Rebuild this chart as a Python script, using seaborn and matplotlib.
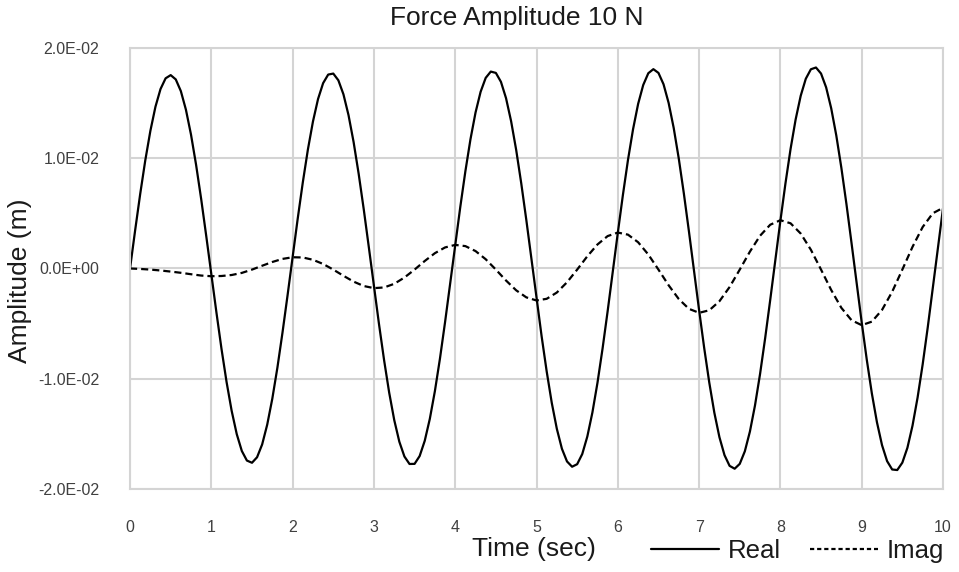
import numpy as np
import pandas as pd
import matplotlib
matplotlib.use("Agg")
import matplotlib.pyplot as plt
from matplotlib.lines import Line2D
from matplotlib.ticker import FuncFormatter
import seaborn as sns

# ===============================
# DATA (amplitudes, in units of 1e-4 m)
# ===============================
TIME_REAL = np.linspace(0, 10, 161)  # 1/16 s apart
TIME_IMAG = np.linspace(0, 10, 81)   # 1/8 s apart

REAL_1E4 = [
    0.0, 34.5, 67.6, 98.1, 124.8, 146.7, 162.8, 172.5,
    175.4, 171.5, 160.9, 144.0, 121.4, 94.0, 63.0, 29.4,
    -5.3, -39.8, -72.9, -103.0, -129.1, -150.2, -165.5, -174.2,
    -176.2, -171.2, -159.6, -141.6, -118.1, -90.0, -58.3, -24.4,
    10.6, 45.2, 78.0, 107.8, 133.3, 153.7, 168.1, 175.9,
    176.8, 170.7, 158.0, 139.1, 114.7, 85.8, 53.6, 19.2,
    -16.0, -50.5, -83.1, -112.5, -137.5, -157.1, -170.5, -177.3,
    -177.2, -170.1, -156.3, -136.4, -111.2, -81.6, -48.7, -13.9,
    21.4, 55.9, 88.2, 117.2, 141.5, 160.3, 172.9, 178.6,
    177.4, 169.3, 154.5, 133.6, 107.5, 77.1, 43.8, 8.7,
    -26.8, -61.3, -93.3, -121.8, -145.4, -163.5, -175.0, -179.8,
    -177.5, -168.3, -152.4, -130.6, -103.6, -72.6, -38.7, -3.3,
    32.3, 66.6, 98.4, 126.3, 149.3, 166.4, 177.1, 180.8,
    177.4, 167.1, 150.2, 127.5, 99.7, 68.0, 33.6, -2.1,
    -37.8, -72.0, -103.4, -130.8, -153.0, -169.3, -179.0, -181.6,
    -177.2, -165.8, -147.9, -124.2, -95.6, -63.2, -28.4, 7.6,
    43.3, 77.3, 108.4, 135.2, 156.7, 172.1, 180.7, 182.3,
    176.8, 164.3, 145.3, 120.7, 91.3, 58.4, 23.1, -13.1,
    -48.8, -82.7, -113.3, -139.4, -160.2, -174.7, -182.3, -182.8,
    -176.1, -162.6, -142.6, -117.1, -87.0, -53.4, -17.7, 18.7,
    54.4,
]

IMAG_1E4 = [
    0.0, -0.4, -1.0, -1.8, -2.8, -3.9, -5.2, -6.4, -7.0,
    -6.8, -5.9, -4.0, -1.0, 2.5, 5.9, 8.7, 10.2,
    10.0, 7.9, 4.1, -1.0, -6.6, -11.9, -15.9, -17.8,
    -17.2, -13.9, -8.2, -1.0, 6.8, 13.9, 19.1, 21.4,
    20.3, 15.8, 8.4, -1.0, -10.9, -19.8, -26.2, -29.0,
    -27.5, -21.8, -12.5, -1.0, 11.1, 21.8, 29.4, 32.6,
    30.7, 23.8, 12.7, -1.0, -15.2, -27.7, -36.6, -40.2,
    -37.9, -29.7, -16.8, -1.0, 15.3, 29.7, 39.7, 43.8,
    41.0, 31.7, 17.0, -1.0, -19.5, -35.7, -46.9, -51.4,
    -48.2, -37.6, -21.1, -1.0, 19.6, 37.6, 50.1, 55.0,
]

SERIES = ["Real", "Imag"]
X_TICKS = list(range(0, 11))
Y_TICKS = [-0.02, -0.01, 0.0, 0.01, 0.02]

# ===============================
# LONG FORMAT TABLE
# ===============================
df = pd.concat([
    pd.DataFrame({"time": TIME_REAL, "amp": np.array(REAL_1E4) * 1e-4, "series": "Real"}),
    pd.DataFrame({"time": TIME_IMAG, "amp": np.array(IMAG_1E4) * 1e-4, "series": "Imag"}),
], ignore_index=True)

# ===============================
# STYLE
# ===============================
sns.set_theme(style="whitegrid")
plt.rcParams["font.family"] = ["Liberation Sans", "DejaVu Sans"]
GRID = "#d4d4d4"
DASH = (3.2, 1.8)
LW = 1.6

fig = plt.figure(figsize=(9.59, 5.72), dpi=100)
ax = fig.add_axes([0.1356, 0.1451, 0.8477, 0.7710])

sns.lineplot(
    data=df, x="time", y="amp", style="series", style_order=SERIES,
    dashes={"Real": "", "Imag": DASH}, color="black",
    linewidth=LW, ax=ax, sort=False, legend=False,
)

ax.set_xlim(0, 10)
ax.set_ylim(-0.02, 0.02)
ax.set_xticks(X_TICKS)
ax.set_yticks(Y_TICKS)
ax.yaxis.set_major_formatter(FuncFormatter(lambda v, p: f"{v:.1E}"))
ax.tick_params(axis="both", length=0, labelsize=11.5, colors="#404040")
ax.tick_params(axis="y", pad=22)
ax.tick_params(axis="x", pad=22)

ax.grid(True, color=GRID, linewidth=1.5)
for s in ax.spines.values():
    s.set_color(GRID)
    s.set_linewidth(1.5)

ax.set_xlabel("")
ax.set_ylabel("")
TXT = "#1a1a1a"
fig.text(534 / 959, 1 - 549 / 572, "Time (sec)", ha="center", va="center",
         fontsize=19, color=TXT)
fig.text(20 / 959, 1 - 281 / 572, "Amplitude (m)", ha="center", va="center",
         rotation=90, fontsize=19, color=TXT)
fig.text(517 / 959, 1 - 18 / 572, "Force Amplitude 10 N", ha="center", va="center",
         fontsize=19, color=TXT)

# legend below the plot, to the right
handles = [
    Line2D([], [], color="black", linewidth=LW),
    Line2D([], [], color="black", linewidth=LW, linestyle=(0, (1.9, 1.3))),
]
leg = fig.legend(
    handles, SERIES, loc="center right", bbox_to_anchor=(944 / 959, 1 - 551 / 572),
    ncol=2, frameon=False, fontsize=18.5, handlelength=2.65, handletextpad=0.35,
    columnspacing=1.1, borderpad=0, borderaxespad=0,
)
for t in leg.get_texts():
    t.set_color(TXT)

fig.savefig("out.png", dpi=100)
